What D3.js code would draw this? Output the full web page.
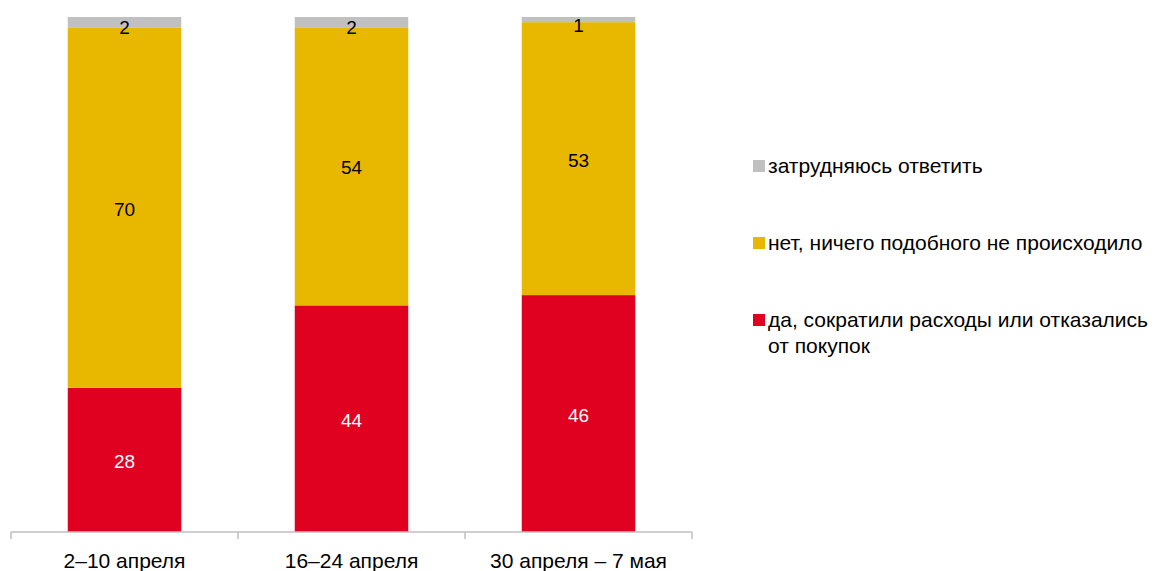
<html>
<head>
    <meta charset="utf-8">
    <script type="text/javascript" src="https://cdn.jsdelivr.net/npm/d3@7/dist/d3.min.js"></script>
    <style>
        body { margin: 0; background: #ffffff; }
        * { font-family: 'Liberation Sans', Arial, sans-serif; }
        .val { font-size: 19px; }
        .cat { font-size: 21px; }
        .leg { font-size: 21px; }
    </style>
</head>
<body>
    <svg id="chart" width="1155" height="571"></svg>
    <script type="text/javascript">
        // data
        var categories = ["2–10 апреля", "16–24 апреля", "30 апреля – 7 мая"];
        var seriesNames = ["да, сократили расходы или отказались от покупок",
                           "нет, ничего подобного не происходило",
                           "затрудняюсь ответить"];
        var yes = [28, 44, 46];
        var no = [70, 54, 53];
        var hard = [2, 2, 1];
        var colors = ["#E00020", "#E8B800", "#C0C0C0"];
        var labelColors = ["#ffffff", "#000000", "#000000"];

        var svg = d3.select("#chart");
        var plotLeft = 11, plotRight = 692, plotTop = 17, plotBottom = 532;

        var x = d3.scaleBand().domain(categories).range([plotLeft, plotRight]);
        var y = d3.scaleLinear().domain([0, 100]).range([plotBottom, plotTop]);

        // build stacks
        var rows = categories.map(function(c, i) {
            return { cat: c, s0: yes[i], s1: no[i], s2: hard[i] };
        });
        var layers = d3.stack().keys(["s0", "s1", "s2"])(rows);

        var barW = x.bandwidth() * 0.5;

        var g = svg.selectAll("g.layer")
            .data(layers)
            .enter()
            .append("g")
            .attr("class", "layer")
            .attr("fill", function(d, i) { return colors[i]; });

        g.selectAll("rect")
            .data(function(d) { return d; })
            .enter()
            .append("rect")
            .attr("x", function(d) { return x(d.data.cat) + (x.bandwidth() - barW) / 2; })
            .attr("width", barW)
            .attr("y", function(d) { return y(d[1]); })
            .attr("height", function(d) { return y(d[0]) - y(d[1]); });

        g.each(function(layer, li) {
            d3.select(this).selectAll("text")
                .data(layer)
                .enter()
                .append("text")
                .attr("class", "val")
                .attr("x", function(d) { return x(d.data.cat) + x.bandwidth() / 2; })
                .attr("y", function(d) { return (y(d[0]) + y(d[1])) / 2 + (li == 2 ? 12 : 8); })
                .attr("text-anchor", "middle")
                .attr("fill", labelColors[li])
                .text(function(d) { return d[1] - d[0]; });
        });

        // axis
        var axis = svg.append("g").attr("transform", "translate(0," + plotBottom + ")");
        axis.append("line")
            .attr("x1", plotLeft).attr("x2", plotRight)
            .attr("stroke", "#BFBFBF").attr("stroke-width", 1.5);
        var ticks = categories.map(function(c) { return x(c); }).concat([plotRight]);
        axis.selectAll("line.tick")
            .data(ticks)
            .enter()
            .append("line")
            .attr("class", "tick")
            .attr("x1", function(d) { return d; }).attr("x2", function(d) { return d; })
            .attr("y1", 0).attr("y2", 7)
            .attr("stroke", "#BFBFBF").attr("stroke-width", 1.5);
        axis.selectAll("text")
            .data(categories)
            .enter()
            .append("text")
            .attr("class", "cat")
            .attr("x", function(d) { return x(d) + x.bandwidth() / 2; })
            .attr("y", 36)
            .attr("text-anchor", "middle")
            .attr("fill", "#000")
            .text(function(d) { return d; });

        // legend (top to bottom: reversed series)
        var legendItems = [
            { lines: ["затрудняюсь ответить"], color: colors[2] },
            { lines: ["нет, ничего подобного не происходило"], color: colors[1] },
            { lines: ["да, сократили расходы или отказались", "от покупок"], color: colors[0] }
        ];
        var legend = svg.selectAll("g.legend")
            .data(legendItems)
            .enter()
            .append("g")
            .attr("class", "legend")
            .attr("transform", function(d, i) { return "translate(753," + (160 + i * 77) + ")"; });
        legend.append("rect")
            .attr("width", 12).attr("height", 12)
            .attr("fill", function(d) { return d.color; });
        legend.append("text")
            .attr("class", "leg")
            .attr("y", 13)
            .attr("fill", "#000")
            .selectAll("tspan")
            .data(function(d) { return d.lines; })
            .enter()
            .append("tspan")
            .attr("x", 15)
            .attr("dy", function(d, i) { return i == 0 ? 0 : 26; })
            .text(function(d) { return d; });
    </script>
</body>
</html>
